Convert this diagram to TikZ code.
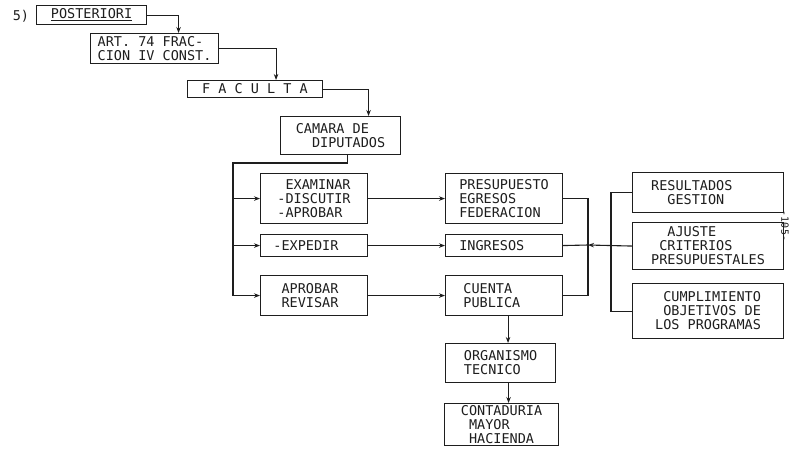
\documentclass[tikz,border=0pt]{standalone}
\usepackage{fontspec}
\usepackage{tikz}
\usepackage{xcolor}
\usetikzlibrary{arrows.meta,positioning,calc}
\newfontfamily\typefont{DejaVu Sans Mono}
\definecolor{ink}{HTML}{1E1E1E}
\definecolor{paper}{HTML}{FFFFFF}
% one typed character of blank space
\newcommand{\chsp}[1]{\hspace*{#1\fontcharwd\font`A}}
\tikzset{
  docbox/.style={draw=ink,fill=paper,line width=1.1pt,anchor=north west,
                 inner sep=0pt,align=left,text=ink,
                 font=\typefont\fontsize{13.5}{14}\selectfont},
  flowarr/.style={-{Stealth[length=6pt,width=4.5pt]},line width=1.1pt,draw=ink},
  plainln/.style={line width=1.1pt,draw=ink}
}

\begin{document}
\begin{tikzpicture}[x=1pt,y=-1pt,>=Latex]
  \useasboundingbox[fill=paper] (0,0) rectangle (791,456);
  % chain from the top
  \node[text=ink,font=\typefont\fontsize{13.5}{14}\selectfont] (num) at (21,16) {5)};
  \node[docbox,minimum width=110,minimum height=19] (post) at (36,5) {\underline{POSTERIORI}};
  \node[docbox,minimum width=128,minimum height=30] (art) at (90,33) {ART. 74 FRAC-\\CION IV CONST.};
  \node[docbox,minimum width=135,minimum height=17] (fac) at (187,80) {F A C U L T A};
  \node[docbox,minimum width=120,minimum height=38] (cam) at (280,116) {CAMARA DE\\\chsp{2}DIPUTADOS};
  % what the chamber does
  \node[docbox,minimum width=107,minimum height=50] (exa) at (260,173) {\chsp{1}EXAMINAR\\-DISCUTIR\\-APROBAR};
  \node[docbox,minimum width=107,minimum height=22] (exp) at (260,234) {-EXPEDIR\chsp{2}};
  \node[docbox,minimum width=107,minimum height=40] (apr) at (260,275) {APROBAR\chsp{1}\\REVISAR};
  % on what
  \node[docbox,minimum width=117,minimum height=50] (pre) at (445,173) {PRESUPUESTO\\EGRESOS\\FEDERACION};
  \node[docbox,minimum width=117,minimum height=22] (ing) at (445,234) {INGRESOS\chsp{3}};
  \node[docbox,minimum width=117,minimum height=40] (cue) at (445,275) {CUENTA\chsp{4}\\PUBLICA};
  \node[docbox,minimum width=110,minimum height=39] (org) at (445,343) {ORGANISMO\\TECNICO};
  \node[docbox,minimum width=114,minimum height=42] (con) at (444,403) {CONTADURIA\\\chsp{1}MAYOR\\\chsp{1}HACIENDA};
  % right hand group
  \node[docbox,minimum width=151,minimum height=40] (res) at (632,172) {RESULTADOS\chsp{4}\\\chsp{2}GESTION};
  \node[docbox,minimum width=151,minimum height=47] (aju) at (632,222) {\chsp{2}AJUSTE\\\chsp{1}CRITERIOS\\PRESUPUESTALES};
  \node[docbox,minimum width=151,minimum height=55] (cum) at (632,283) {\chsp{1}CUMPLIMIENTO\\\chsp{1}OBJETIVOS DE\\LOS PROGRAMAS};
  \node[text=ink,font=\typefont\fontsize{10}{10}\selectfont,rotate=-90,inner sep=0pt] (pg) at (785,226) {-105-};

  % top steps
  \draw[flowarr] (post.east) -| ([xshift=24pt]art.north);
  \draw[flowarr] (art.east) -| ([xshift=21pt]fac.north);
  \draw[flowarr] (fac.east) -| ([xshift=28pt]cam.north);
  % trunk on the left
  \coordinate (split) at (233,163);
  \draw[plainln] ([xshift=7pt]cam.south) |- (split) -- (split |- apr.west);
  \draw[flowarr] (split |- exa.west) -- (exa.west);
  \draw[flowarr] (split |- exp.west) -- (exp.west);
  \draw[flowarr] (split |- apr.west) -- (apr.west);
  \draw[flowarr] (exa) -- (pre);
  \draw[flowarr] (exp) -- (ing);
  \draw[flowarr] (apr) -- (cue);
  % brackets on the right
  \coordinate (lj) at (588,245);
  \coordinate (rj) at (611,245);
  \draw[plainln] (pre.east) -| (lj) |- (cue.east);
  \draw[plainln] (ing.east) -- (lj);
  \draw[plainln] (res.west) -| (rj) |- (cum.west);
  \draw[flowarr] (aju.west) -- (lj);
  % down to the audit office
  \draw[flowarr] ([xshift=4pt]cue.south) -- ([xshift=4pt]cue.south |- org.north);
  \draw[flowarr] ([xshift=8pt]org.south) -- ([xshift=8pt]org.south |- con.north);
\end{tikzpicture}
\end{document}
